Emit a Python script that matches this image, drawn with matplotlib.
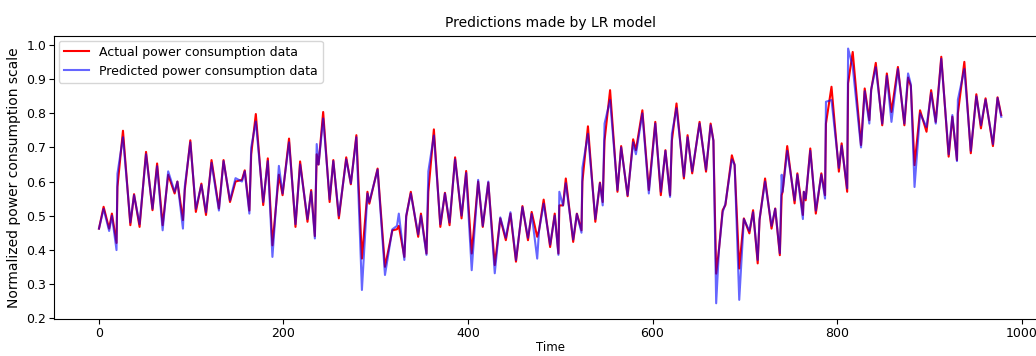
import matplotlib
matplotlib.use("Agg")
from matplotlib import pyplot as plt

# time index of each sample (turning points of the curve)
t = [0, 5, 11, 14, 19, 20, 26, 34, 38, 44, 51, 58, 63, 69, 75, 82, 85, 91, 93, 99,
     105, 111, 116, 122, 130, 135, 142, 148, 155, 158, 163, 165, 170, 178, 183, 188, 195, 199,
     206, 213, 218, 226, 230, 234, 236, 238, 243, 250, 254, 260, 268, 273, 279, 285, 291, 293,
     302, 310, 318, 323, 325, 331, 333, 338, 346, 349, 355, 357, 363, 370, 375, 380, 386, 393,
     398, 404, 411, 416, 422, 429, 435, 441, 446, 452, 459, 465, 469, 475, 477, 482, 489, 494,
     498, 499, 503, 506, 514, 518, 523, 524, 530, 538, 543, 546, 548, 554, 562, 566, 573, 579,
     582, 589, 596, 603, 609, 614, 619, 621, 626, 634, 638, 643, 651, 658, 663, 666, 669, 672,
     676, 679, 686, 689, 694, 699, 705, 709, 714, 716, 722, 729, 733, 738, 740, 741, 746, 754,
     757, 763, 764, 766, 771, 777, 783, 787, 788, 794, 802, 805, 811, 812, 817, 826, 830, 835,
     837, 842, 849, 854, 859, 866, 873, 877, 880, 884, 890, 897, 902, 907, 913, 921, 925, 930,
     931, 938, 945, 951, 956, 961, 969, 974, 978]

actual = [0.462, 0.526, 0.462, 0.506, 0.420, 0.584, 0.749, 0.472, 0.563, 0.467, 0.687, 0.516,
          0.653, 0.472, 0.620, 0.565, 0.600, 0.487, 0.575, 0.721, 0.511, 0.594, 0.502, 0.663,
          0.521, 0.663, 0.540, 0.600, 0.605, 0.633, 0.515, 0.680, 0.798, 0.531, 0.668, 0.413,
          0.620, 0.560, 0.726, 0.467, 0.659, 0.482, 0.575, 0.440, 0.680, 0.650, 0.804, 0.540,
          0.663, 0.492, 0.671, 0.592, 0.736, 0.374, 0.570, 0.535, 0.638, 0.350, 0.457, 0.460,
          0.470, 0.379, 0.497, 0.570, 0.438, 0.506, 0.389, 0.570, 0.753, 0.467, 0.567, 0.472,
          0.671, 0.492, 0.631, 0.389, 0.600, 0.467, 0.597, 0.355, 0.492, 0.428, 0.506, 0.365,
          0.528, 0.428, 0.511, 0.438, 0.457, 0.547, 0.408, 0.506, 0.389, 0.530, 0.530, 0.609,
          0.423, 0.506, 0.457, 0.600, 0.762, 0.482, 0.597, 0.540, 0.720, 0.868, 0.570, 0.704,
          0.557, 0.724, 0.692, 0.809, 0.575, 0.775, 0.560, 0.692, 0.560, 0.720, 0.829, 0.609,
          0.736, 0.624, 0.775, 0.629, 0.770, 0.720, 0.330, 0.400, 0.516, 0.531, 0.677, 0.648,
          0.345, 0.492, 0.448, 0.516, 0.360, 0.487, 0.609, 0.462, 0.521, 0.384, 0.560, 0.570,
          0.704, 0.536, 0.624, 0.502, 0.570, 0.545, 0.697, 0.506, 0.624, 0.560, 0.770, 0.878,
          0.629, 0.712, 0.570, 0.888, 0.980, 0.707, 0.873, 0.780, 0.868, 0.948, 0.765, 0.917,
          0.804, 0.936, 0.765, 0.905, 0.880, 0.648, 0.809, 0.746, 0.868, 0.775, 0.966, 0.673,
          0.790, 0.663, 0.800, 0.951, 0.683, 0.856, 0.756, 0.844, 0.704, 0.847, 0.795]

predicted = [0.462, 0.520, 0.455, 0.500, 0.399, 0.623, 0.730, 0.480, 0.560, 0.475, 0.680, 0.520,
             0.645, 0.457, 0.630, 0.570, 0.600, 0.462, 0.585, 0.715, 0.520, 0.590, 0.510, 0.655,
             0.515, 0.660, 0.545, 0.610, 0.600, 0.630, 0.506, 0.700, 0.776, 0.540, 0.660, 0.379,
             0.646, 0.565, 0.715, 0.475, 0.650, 0.490, 0.570, 0.433, 0.710, 0.650, 0.785, 0.548,
             0.660, 0.500, 0.665, 0.595, 0.730, 0.282, 0.565, 0.540, 0.635, 0.326, 0.460, 0.470,
             0.506, 0.370, 0.500, 0.565, 0.445, 0.500, 0.385, 0.630, 0.735, 0.475, 0.565, 0.480,
             0.665, 0.500, 0.625, 0.340, 0.605, 0.470, 0.600, 0.331, 0.495, 0.435, 0.510, 0.370,
             0.525, 0.435, 0.505, 0.374, 0.457, 0.535, 0.415, 0.500, 0.385, 0.570, 0.530, 0.595,
             0.430, 0.505, 0.450, 0.640, 0.740, 0.490, 0.595, 0.530, 0.770, 0.839, 0.575, 0.700,
             0.560, 0.715, 0.680, 0.800, 0.565, 0.770, 0.570, 0.690, 0.555, 0.740, 0.815, 0.615,
             0.730, 0.630, 0.770, 0.635, 0.765, 0.720, 0.243, 0.400, 0.510, 0.535, 0.665, 0.650,
             0.253, 0.490, 0.455, 0.510, 0.370, 0.490, 0.600, 0.470, 0.520, 0.390, 0.620, 0.570,
             0.690, 0.545, 0.620, 0.490, 0.570, 0.550, 0.690, 0.515, 0.620, 0.550, 0.834, 0.839,
             0.640, 0.705, 0.580, 0.990, 0.937, 0.700, 0.865, 0.770, 0.870, 0.935, 0.770, 0.910,
             0.775, 0.930, 0.770, 0.917, 0.885, 0.584, 0.800, 0.760, 0.860, 0.770, 0.960, 0.680,
             0.795, 0.660, 0.840, 0.930, 0.690, 0.850, 0.765, 0.840, 0.710, 0.845, 0.790]

fig = plt.figure(figsize=(10.36, 3.56), dpi=100)
ax = fig.add_axes([0.052, 0.104, 0.958, 0.796])

ax.plot(t, actual, color="red", lw=1.5, label="Actual power consumption data")
ax.plot(t, predicted, color="blue", lw=1.5, alpha=0.6, label="Predicted power consumption data")

ax.set_title("Predictions made by LR model", fontsize=10)
ax.set_xlabel("Time", fontsize=8.5, labelpad=1)
ax.set_ylabel("Normalized power consumption scale", fontsize=10)
ax.tick_params(labelsize=9, pad=2)
ax.set_xticks([0, 200, 400, 600, 800, 1000])
ax.set_ylim(0.197, 1.028)
ax.legend(loc="upper left", fontsize=9, borderaxespad=0.4)

fig.savefig("out.png", dpi=100)
